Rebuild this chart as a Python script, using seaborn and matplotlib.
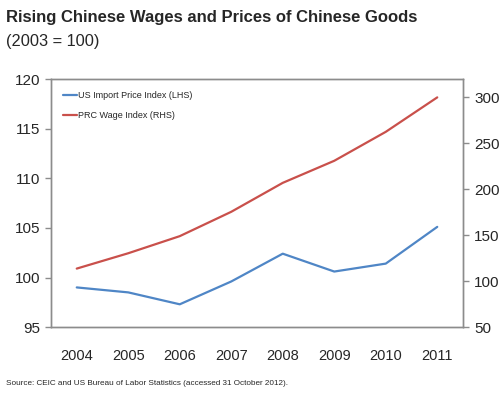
import matplotlib
matplotlib.use('Agg')
import matplotlib.pyplot as plt
import seaborn as sns
import pandas as pd

years = ['2004', '2005', '2006', '2007', '2008', '2009', '2010', '2011']
us_import_price = [99.0, 98.5, 97.3, 99.6, 102.4, 100.6, 101.4, 105.1]
prc_wage = [113.7, 130.4, 149.0, 175.5, 207.0, 231.0, 262.5, 300.0]

df = pd.DataFrame({'Year': years, 'US': us_import_price, 'PRC': prc_wage})
df['pos'] = range(len(years))

sns.set_style('white')
plt.rcParams['font.family'] = ['Liberation Sans', 'DejaVu Sans']

blue = '#4F86C6'
red = '#C9504B'
grey = '#8C8C8C'

fig = plt.figure(figsize=(5, 3.97), dpi=100)
ax = fig.add_axes([0.102, 0.176, 0.824, 0.625])
ax2 = ax.twinx()

sns.lineplot(data=df, x='pos', y='US', ax=ax, color=blue, linewidth=1.6,
             label='US Import Price Index (LHS)', legend=False)
sns.lineplot(data=df, x='pos', y='PRC', ax=ax2, color=red, linewidth=1.6,
             label='PRC Wage Index (RHS)', legend=False)

ax.set_xlim(-0.5, len(years) - 0.5)
ax.set_ylim(95, 120)
ax.set_yticks([95, 100, 105, 110, 115, 120])
ax2.set_ylim(50, 320)
ax2.set_yticks([50, 100, 150, 200, 250, 300])
ax.set_xticks(df['pos'])
ax.set_xticklabels(years)

for a in (ax, ax2):
    a.set_xlabel('')
    a.set_ylabel('')
    for s in a.spines.values():
        s.set_color(grey)
        s.set_linewidth(1.0)
    a.tick_params(axis='y', length=4, color=grey, width=1.0, labelsize=11, pad=4)
ax.tick_params(axis='x', length=0, labelsize=10.5, pad=16)
ax.tick_params(axis='y', left=True)
ax2.tick_params(axis='y', right=True)

h1, l1 = ax.get_legend_handles_labels()
h2, l2 = ax2.get_legend_handles_labels()
ax2.legend(h1 + h2, l1 + l2, loc='upper left', frameon=False, fontsize=6.5,
           handlelength=1.55, handletextpad=0.1, labelspacing=1.25,
           bbox_to_anchor=(0.0, 1.0), borderaxespad=0.9)

fig.text(0.012, 0.945, 'Rising Chinese Wages and Prices of Chinese Goods',
         fontsize=12, fontweight='bold', va='baseline', ha='left')
fig.text(0.012, 0.884, '(2003 = 100)', fontsize=11.8, va='baseline', ha='left')
fig.text(0.012, 0.030, 'Source: CEIC and US Bureau of Labor Statistics (accessed 31 October 2012).',
         fontsize=5.9, va='baseline', ha='left')

fig.savefig('out.png', dpi=100)
